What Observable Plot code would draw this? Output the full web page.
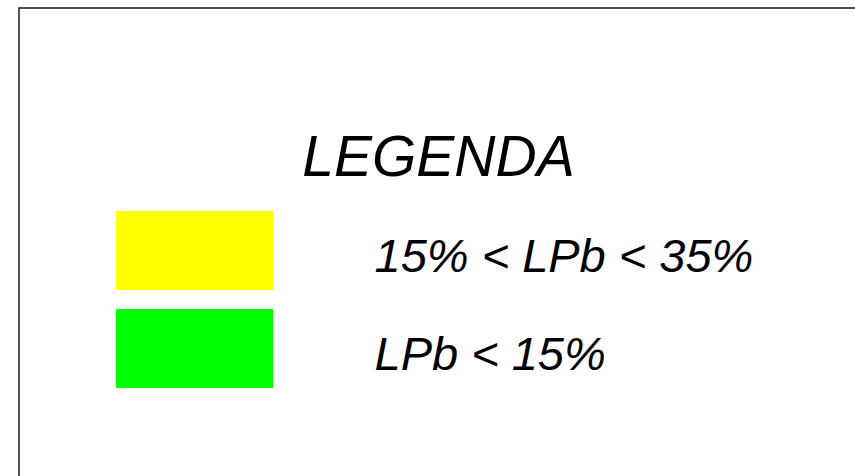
<!DOCTYPE html>
<html>
<head>
<meta charset="utf-8">
<script src="https://cdn.jsdelivr.net/npm/d3@7"></script>
<script src="https://cdn.jsdelivr.net/npm/@observablehq/plot@0.6"></script>
<style>
  html, body { margin: 0; padding: 0; background: #fff; }
  #chart svg { display: block; }
</style>
</head>
<body>
<div id="chart"></div>
<script>
const title = "LEGENDA";
const labels = ["15% < LPb < 35%", "LPb < 15%"];
const colors = ["#ffff00", "#00ff00"];

const rows = labels.map((label, i) => ({label, color: colors[i]}));

const chart = Plot.plot({
  width: 855,
  height: 476,
  margin: 0,
  style: {fontFamily: "'Liberation Sans', Arial, sans-serif", background: "#fff"},
  x: {domain: [0, 855], range: [0, 855], axis: null},
  y: {domain: labels, range: [211, 388], paddingInner: 0.194, paddingOuter: 0, axis: null},
  marks: [
    Plot.frame({stroke: "#1a1a1a", strokeWidth: 1.5, insetLeft: 18.5, insetTop: 7.5, insetRight: -20, insetBottom: -20}),
    Plot.barX(rows, {x1: 116, x2: 273, y: "label", fill: "color", insetTop: 0, insetBottom: 0}),
    Plot.text(rows, {x: 374, y: "label", text: "label", textAnchor: "start", fontSize: 47, fontStyle: "italic", fill: "#000", dy: 6}),
    Plot.text([title], {frameAnchor: "top", x: 438, dy: 135, text: d => d, fontSize: 57, fontStyle: "italic", fill: "#000"})
  ]
});
document.getElementById("chart").append(chart);
</script>
</body>
</html>
